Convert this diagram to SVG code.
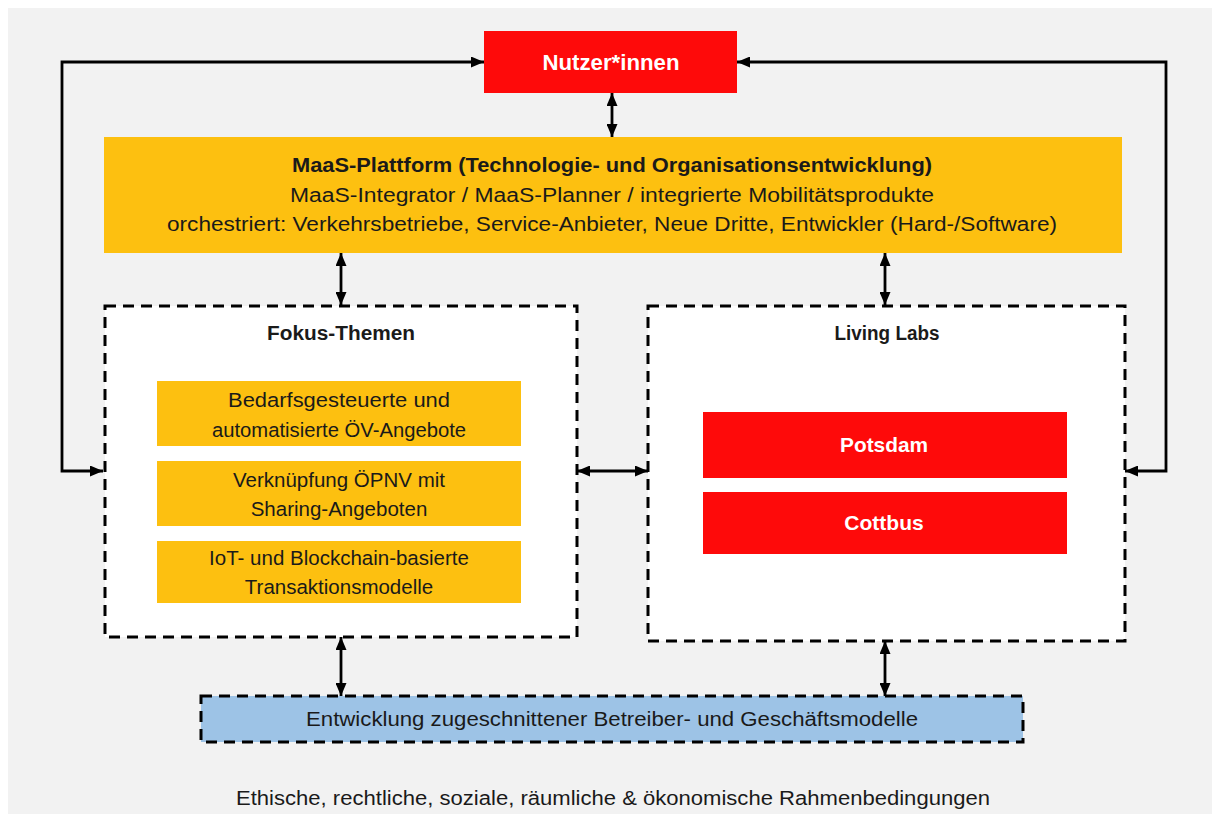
<svg xmlns="http://www.w3.org/2000/svg" width="1214" height="814" viewBox="0 0 1214 814">
<defs>
<marker id="ah" viewBox="0 0 13 11" refX="13" refY="5.5" markerWidth="13" markerHeight="11" markerUnits="userSpaceOnUse" orient="auto-start-reverse">
<path d="M0,0 L13,5.5 L0,11 Z" fill="#000"/>
</marker>
<style>
.t{font-family:"Liberation Sans",Arial,sans-serif;fill:#1a1a1a;text-anchor:middle}
.b{font-weight:bold}
.w{fill:#fff}
.dash{stroke:#000;stroke-width:3;stroke-dasharray:11 7}
.con{fill:none;stroke:#000;stroke-width:2.8}
.org{fill:#fdc010}
.red{fill:#fe0a0a}
</style>
</defs>
<rect x="0" y="0" width="1214" height="814" fill="#fff"/>
<rect x="8" y="8" width="1204" height="806" fill="#f2f2f2"/>

<g id="connectors">
<path class="con" d="M103,471 H62 V62 H484" marker-end="url(#ah)" marker-start="url(#ah)"/>
<path class="con" d="M1125,471 H1166 V62 H737" marker-end="url(#ah)" marker-start="url(#ah)"/>
<path class="con" d="M612,93 V137" marker-end="url(#ah)" marker-start="url(#ah)"/>
<path class="con" d="M341,253 V305" marker-end="url(#ah)" marker-start="url(#ah)"/>
<path class="con" d="M885,253 V305" marker-end="url(#ah)" marker-start="url(#ah)"/>
<path class="con" d="M577,471 H648" marker-end="url(#ah)" marker-start="url(#ah)"/>
<path class="con" d="M341,637 V696" marker-end="url(#ah)" marker-start="url(#ah)"/>
<path class="con" d="M885,641 V696" marker-end="url(#ah)" marker-start="url(#ah)"/>
</g>

<g id="nutzer">
<rect class="red" x="484" y="31" width="253" height="62"/>
<text class="t b w" x="611" y="70" font-size="21.5" textLength="137" lengthAdjust="spacingAndGlyphs">Nutzer*innen</text>
</g>

<g id="maas">
<rect class="org" x="104" y="137" width="1018" height="116"/>
<text class="t b" x="612" y="172" font-size="20" textLength="640" lengthAdjust="spacingAndGlyphs">MaaS-Plattform (Technologie- und Organisationsentwicklung)</text>
<text class="t" x="612" y="202" font-size="20" textLength="644" lengthAdjust="spacingAndGlyphs">MaaS-Integrator / MaaS-Planner / integrierte Mobilitätsprodukte</text>
<text class="t" x="612" y="231" font-size="20" textLength="890" lengthAdjust="spacingAndGlyphs">orchestriert: Verkehrsbetriebe, Service-Anbieter, Neue Dritte, Entwickler (Hard-/Software)</text>
</g>

<g id="fokus">
<rect x="105" y="306" width="472" height="331" fill="#fff" class="dash"/>
<text class="t b" x="341" y="340" font-size="20" textLength="148" lengthAdjust="spacingAndGlyphs">Fokus-Themen</text>
</g>

<g id="fokus1">
<rect class="org" x="157" y="381" width="364" height="65"/>
<text class="t" x="339" y="407" font-size="20.5" textLength="222" lengthAdjust="spacingAndGlyphs">Bedarfsgesteuerte und</text>
<text class="t" x="339" y="437" font-size="20.5" textLength="254" lengthAdjust="spacingAndGlyphs">automatisierte ÖV-Angebote</text>
</g>
<g id="fokus2">
<rect class="org" x="157" y="461" width="364" height="65"/>
<text class="t" x="339" y="487" font-size="20.5">Verknüpfung ÖPNV mit</text>
<text class="t" x="339" y="516" font-size="20.5">Sharing-Angeboten</text>
</g>
<g id="fokus3">
<rect class="org" x="157" y="541" width="364" height="62"/>
<text class="t" x="339" y="565" font-size="20.5">IoT- und Blockchain-basierte</text>
<text class="t" x="339" y="594" font-size="20.5">Transaktionsmodelle</text>
</g>

<g id="living">
<rect x="648" y="306" width="477" height="335" fill="#fff" class="dash"/>
<text class="t b" x="887" y="340" font-size="19.5" textLength="105" lengthAdjust="spacingAndGlyphs">Living Labs</text>
</g>
<g id="potsdam">
<rect class="red" x="703" y="412" width="364" height="66"/>
<text class="t b w" x="884" y="452" font-size="21" textLength="88" lengthAdjust="spacingAndGlyphs">Potsdam</text>
</g>
<g id="cottbus">
<rect class="red" x="703" y="492" width="364" height="62"/>
<text class="t b w" x="884" y="530" font-size="21">Cottbus</text>
</g>

<g id="geschaeft">
<rect x="201" y="696" width="822" height="46" fill="#9dc3e6" class="dash"/>
<text class="t" x="612" y="726" font-size="20" textLength="612" lengthAdjust="spacingAndGlyphs">Entwicklung zugeschnittener Betreiber- und Geschäftsmodelle</text>
</g>

<g id="rahmen">
<text class="t" x="613" y="805" font-size="20" textLength="754" lengthAdjust="spacingAndGlyphs">Ethische, rechtliche, soziale, räumliche &amp; ökonomische Rahmenbedingungen</text>
</g>
</svg>
